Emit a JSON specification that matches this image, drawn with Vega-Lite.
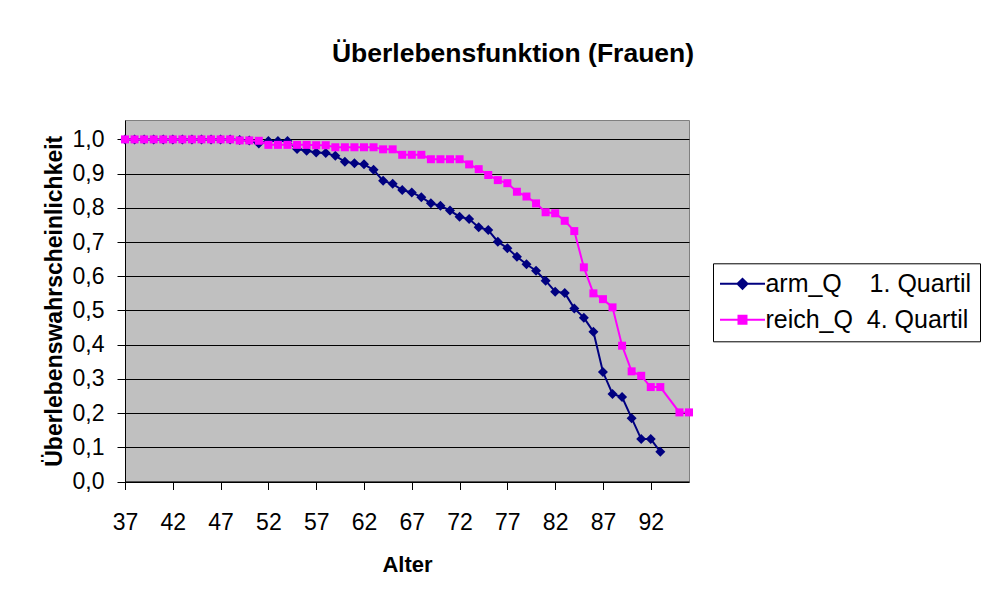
{
  "$schema": "https://vega.github.io/schema/vega-lite/v6.json",
  "width": 564,
  "height": 361.5,
  "autosize": {"type": "none"},
  "padding": {"left": 125, "top": 120, "right": 317, "bottom": 112.5},
  "background": "white",
  "title": {
    "text": "Überlebensfunktion (Frauen)",
    "font": "Liberation Sans",
    "fontSize": 26.5,
    "fontWeight": "bold",
    "color": "black",
    "anchor": "middle",
    "frame": "group",
    "dx": 106,
    "offset": 53
  },
  "data": {
    "values": [
      {"age": 37, "series": "arm_Q", "value": 1.0},
      {"age": 38, "series": "arm_Q", "value": 1.0},
      {"age": 39, "series": "arm_Q", "value": 1.0},
      {"age": 40, "series": "arm_Q", "value": 1.0},
      {"age": 41, "series": "arm_Q", "value": 1.0},
      {"age": 42, "series": "arm_Q", "value": 1.0},
      {"age": 43, "series": "arm_Q", "value": 1.0},
      {"age": 44, "series": "arm_Q", "value": 1.0},
      {"age": 45, "series": "arm_Q", "value": 1.0},
      {"age": 46, "series": "arm_Q", "value": 1.0},
      {"age": 47, "series": "arm_Q", "value": 1.0},
      {"age": 48, "series": "arm_Q", "value": 1.0},
      {"age": 49, "series": "arm_Q", "value": 0.998},
      {"age": 50, "series": "arm_Q", "value": 0.997},
      {"age": 51, "series": "arm_Q", "value": 0.988},
      {"age": 52, "series": "arm_Q", "value": 0.995},
      {"age": 53, "series": "arm_Q", "value": 0.995},
      {"age": 54, "series": "arm_Q", "value": 0.995},
      {"age": 55, "series": "arm_Q", "value": 0.972},
      {"age": 56, "series": "arm_Q", "value": 0.967},
      {"age": 57, "series": "arm_Q", "value": 0.962},
      {"age": 58, "series": "arm_Q", "value": 0.96},
      {"age": 59, "series": "arm_Q", "value": 0.952},
      {"age": 60, "series": "arm_Q", "value": 0.935},
      {"age": 61, "series": "arm_Q", "value": 0.93},
      {"age": 62, "series": "arm_Q", "value": 0.927},
      {"age": 63, "series": "arm_Q", "value": 0.911},
      {"age": 64, "series": "arm_Q", "value": 0.879},
      {"age": 65, "series": "arm_Q", "value": 0.87},
      {"age": 66, "series": "arm_Q", "value": 0.852},
      {"age": 67, "series": "arm_Q", "value": 0.845},
      {"age": 68, "series": "arm_Q", "value": 0.831},
      {"age": 69, "series": "arm_Q", "value": 0.813},
      {"age": 70, "series": "arm_Q", "value": 0.806},
      {"age": 71, "series": "arm_Q", "value": 0.792},
      {"age": 72, "series": "arm_Q", "value": 0.774},
      {"age": 73, "series": "arm_Q", "value": 0.767},
      {"age": 74, "series": "arm_Q", "value": 0.743},
      {"age": 75, "series": "arm_Q", "value": 0.735},
      {"age": 76, "series": "arm_Q", "value": 0.701},
      {"age": 77, "series": "arm_Q", "value": 0.682},
      {"age": 78, "series": "arm_Q", "value": 0.657},
      {"age": 79, "series": "arm_Q", "value": 0.635},
      {"age": 80, "series": "arm_Q", "value": 0.616},
      {"age": 81, "series": "arm_Q", "value": 0.587},
      {"age": 82, "series": "arm_Q", "value": 0.555},
      {"age": 83, "series": "arm_Q", "value": 0.551},
      {"age": 84, "series": "arm_Q", "value": 0.506},
      {"age": 85, "series": "arm_Q", "value": 0.479},
      {"age": 86, "series": "arm_Q", "value": 0.438},
      {"age": 87, "series": "arm_Q", "value": 0.32},
      {"age": 88, "series": "arm_Q", "value": 0.256},
      {"age": 89, "series": "arm_Q", "value": 0.247},
      {"age": 90, "series": "arm_Q", "value": 0.185},
      {"age": 91, "series": "arm_Q", "value": 0.124},
      {"age": 92, "series": "arm_Q", "value": 0.124},
      {"age": 93, "series": "arm_Q", "value": 0.087},
      {"age": 37, "series": "reich_Q", "value": 1.0},
      {"age": 38, "series": "reich_Q", "value": 1.0},
      {"age": 39, "series": "reich_Q", "value": 1.0},
      {"age": 40, "series": "reich_Q", "value": 1.0},
      {"age": 41, "series": "reich_Q", "value": 1.0},
      {"age": 42, "series": "reich_Q", "value": 1.0},
      {"age": 43, "series": "reich_Q", "value": 1.0},
      {"age": 44, "series": "reich_Q", "value": 1.0},
      {"age": 45, "series": "reich_Q", "value": 1.0},
      {"age": 46, "series": "reich_Q", "value": 1.0},
      {"age": 47, "series": "reich_Q", "value": 1.0},
      {"age": 48, "series": "reich_Q", "value": 1.0},
      {"age": 49, "series": "reich_Q", "value": 0.997},
      {"age": 50, "series": "reich_Q", "value": 0.997},
      {"age": 51, "series": "reich_Q", "value": 0.996},
      {"age": 52, "series": "reich_Q", "value": 0.984},
      {"age": 53, "series": "reich_Q", "value": 0.984},
      {"age": 54, "series": "reich_Q", "value": 0.984},
      {"age": 55, "series": "reich_Q", "value": 0.984},
      {"age": 56, "series": "reich_Q", "value": 0.984},
      {"age": 57, "series": "reich_Q", "value": 0.983},
      {"age": 58, "series": "reich_Q", "value": 0.983},
      {"age": 59, "series": "reich_Q", "value": 0.977},
      {"age": 60, "series": "reich_Q", "value": 0.977},
      {"age": 61, "series": "reich_Q", "value": 0.977},
      {"age": 62, "series": "reich_Q", "value": 0.977},
      {"age": 63, "series": "reich_Q", "value": 0.977},
      {"age": 64, "series": "reich_Q", "value": 0.971},
      {"age": 65, "series": "reich_Q", "value": 0.971},
      {"age": 66, "series": "reich_Q", "value": 0.955},
      {"age": 67, "series": "reich_Q", "value": 0.955},
      {"age": 68, "series": "reich_Q", "value": 0.955},
      {"age": 69, "series": "reich_Q", "value": 0.942},
      {"age": 70, "series": "reich_Q", "value": 0.942},
      {"age": 71, "series": "reich_Q", "value": 0.942},
      {"age": 72, "series": "reich_Q", "value": 0.942},
      {"age": 73, "series": "reich_Q", "value": 0.927},
      {"age": 74, "series": "reich_Q", "value": 0.913},
      {"age": 75, "series": "reich_Q", "value": 0.896},
      {"age": 76, "series": "reich_Q", "value": 0.881},
      {"age": 77, "series": "reich_Q", "value": 0.872},
      {"age": 78, "series": "reich_Q", "value": 0.847},
      {"age": 79, "series": "reich_Q", "value": 0.833},
      {"age": 80, "series": "reich_Q", "value": 0.813},
      {"age": 81, "series": "reich_Q", "value": 0.787},
      {"age": 82, "series": "reich_Q", "value": 0.784},
      {"age": 83, "series": "reich_Q", "value": 0.762},
      {"age": 84, "series": "reich_Q", "value": 0.732},
      {"age": 85, "series": "reich_Q", "value": 0.626},
      {"age": 86, "series": "reich_Q", "value": 0.55},
      {"age": 87, "series": "reich_Q", "value": 0.533},
      {"age": 88, "series": "reich_Q", "value": 0.509},
      {"age": 89, "series": "reich_Q", "value": 0.397},
      {"age": 90, "series": "reich_Q", "value": 0.322},
      {"age": 91, "series": "reich_Q", "value": 0.309},
      {"age": 92, "series": "reich_Q", "value": 0.276},
      {"age": 93, "series": "reich_Q", "value": 0.276},
      {"age": 95, "series": "reich_Q", "value": 0.202},
      {"age": 96, "series": "reich_Q", "value": 0.202}
    ]
  },
  "layer": [
    {
      "transform": [{"filter": "datum.series === 'arm_Q'"}],
      "mark": {"type": "line", "strokeWidth": 2, "color": "#000080"},
      "encoding": {
        "x": {
          "field": "age",
          "type": "quantitative",
          "scale": {"domain": [37, 96], "nice": false, "zero": false},
          "axis": {
            "values": [37, 42, 47, 52, 57, 62, 67, 72, 77, 82, 87, 92],
            "tickCount": 20,
            "grid": false,
            "domainColor": "black",
            "domainWidth": 1,
            "tickColor": "black",
            "tickSize": 8,
            "tickWidth": 1,
            "labelFont": "Liberation Sans",
            "labelFontSize": 23,
            "labelColor": "black",
            "labelPadding": 22,
            "labelFlush": false,
            "labelOverlap": false,
            "title": "Alter",
            "titleFont": "Liberation Sans",
            "titleFontSize": 22,
            "titleFontWeight": "bold",
            "titleColor": "black",
            "titlePadding": 20
          }
        },
        "y": {
          "field": "value",
          "type": "quantitative",
          "scale": {"domain": [0, 1.0567], "nice": false, "zero": true},
          "axis": {
            "values": [0, 0.1, 0.2, 0.3, 0.4, 0.5, 0.6, 0.7, 0.8, 0.9, 1],
            "tickCount": 20,
            "grid": true,
            "gridColor": "black",
            "gridWidth": 1,
            "gridOpacity": 1,
            "domainColor": "black",
            "domainWidth": 1,
            "tickColor": "black",
            "tickSize": 8,
            "tickWidth": 1,
            "labelFont": "Liberation Sans",
            "labelFontSize": 23,
            "labelColor": "black",
            "labelPadding": 13,
            "labelFlush": false,
            "labelOverlap": false,
            "labelExpr": "replace(format(datum.value, '.1f'), '.', ',')",
            "title": "Überlebenswahrscheinlichkeit",
            "titleFont": "Liberation Sans",
            "titleFontSize": 23,
            "titleFontWeight": "bold",
            "titleColor": "black",
            "titlePadding": 5.5
          }
        }
      }
    },
    {
      "transform": [{"filter": "datum.series === 'arm_Q'"}],
      "mark": {"type": "point", "filled": true, "opacity": 1, "shape": "diamond", "size": 100, "color": "#000080"},
      "encoding": {
        "x": {"field": "age", "type": "quantitative"},
        "y": {"field": "value", "type": "quantitative"}
      }
    },
    {
      "transform": [{"filter": "datum.series === 'reich_Q'"}],
      "mark": {"type": "line", "strokeWidth": 2, "color": "#FF00FF"},
      "encoding": {
        "x": {"field": "age", "type": "quantitative"},
        "y": {"field": "value", "type": "quantitative"}
      }
    },
    {
      "transform": [{"filter": "datum.series === 'reich_Q'"}],
      "mark": {"type": "point", "filled": true, "opacity": 1, "shape": "square", "size": 64, "color": "#FF00FF"},
      "encoding": {
        "x": {"field": "age", "type": "quantitative"},
        "y": {"field": "value", "type": "quantitative"}
      }
    },
    {
      "mark": {"type": "point", "filled": false, "opacity": 0, "strokeWidth": 2, "size": 100},
      "encoding": {
        "x": {"field": "age", "type": "quantitative"},
        "y": {"field": "value", "type": "quantitative"},
        "color": {
          "field": "series",
          "type": "nominal",
          "scale": {"domain": ["arm_Q", "reich_Q"], "range": ["#000080", "#FF00FF"]},
          "legend": {
            "orient": "none", "legendX": 588, "legendY": 143.3, "title": null,
            "strokeColor": "black", "fillColor": "white", "padding": 8,
            "labelFont": "Liberation Sans", "labelFontSize": 25, "labelColor": "black", "labelLimit": 500,
            "labelOffset": 10.4, "symbolOffset": 9, "rowPadding": 10,
            "symbolSize": 100, "symbolStrokeWidth": 2, "symbolOpacity": 1,
            "labelExpr": "datum.value === 'arm_Q' ? 'arm_Q\u00a0\u00a0\u00a0\u00a01.\u00a0Quartil' : 'reich_Q\u00a0\u00a04.\u00a0Quartil'"
          }
        },
        "shape": {
          "field": "series",
          "type": "nominal",
          "scale": {"domain": ["arm_Q", "reich_Q"], "range": ["M-4.5,0H4.5M-1,0L0,-1L1,0L0,1ZM-0.6,0L0,-0.6L0.6,0L0,0.6ZM-0.2,0L0,-0.2L0.2,0L0,0.2Z", "M-4.5,0H4.5M-0.8,-0.8H0.8V0.8H-0.8ZM-0.4,-0.4H0.4V0.4H-0.4ZM-0.05,-0.05H0.05V0.05H-0.05Z"]},
          "legend": {
            "orient": "none", "legendX": 588, "legendY": 143.3, "title": null,
            "strokeColor": "black", "fillColor": "white", "padding": 8,
            "labelFont": "Liberation Sans", "labelFontSize": 25, "labelColor": "black", "labelLimit": 500,
            "labelOffset": 10.4, "symbolOffset": 9, "rowPadding": 10,
            "symbolSize": 100, "symbolStrokeWidth": 2, "symbolOpacity": 1,
            "labelExpr": "datum.value === 'arm_Q' ? 'arm_Q\u00a0\u00a0\u00a0\u00a01.\u00a0Quartil' : 'reich_Q\u00a0\u00a04.\u00a0Quartil'"
          }
        }
      }
    }
  ],
  "config": {
    "view": {"fill": "#C0C0C0", "stroke": "#808080", "strokeWidth": 1},
    "font": "Liberation Sans"
  }
}
